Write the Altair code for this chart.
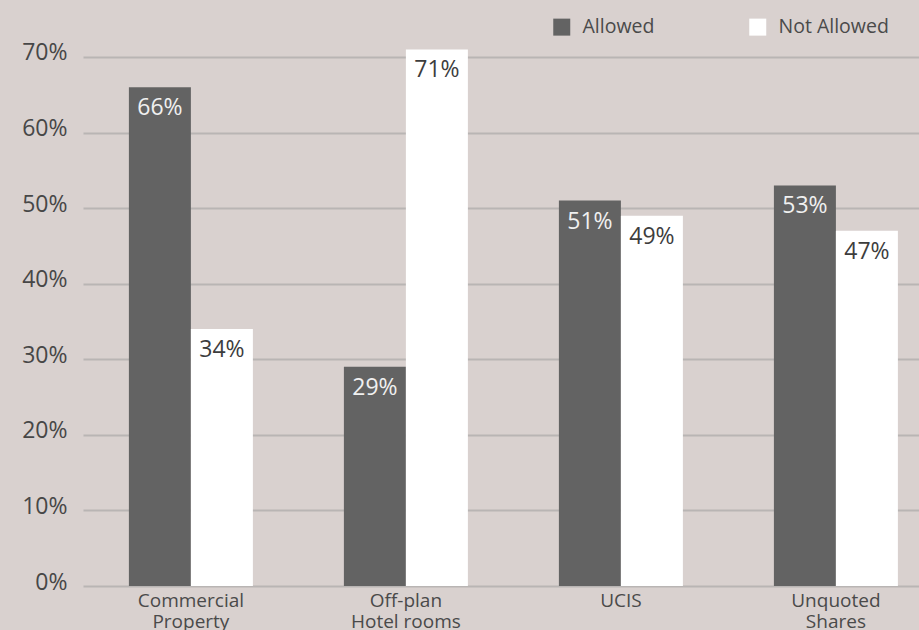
import json
import altair as alt
import pandas as pd

categories = ["Commercial Property", "Off-plan Hotel rooms", "UCIS", "Unquoted Shares"]
category_lines = [["Commercial", "Property"], ["Off-plan", "Hotel rooms"], ["UCIS"], ["Unquoted", "Shares"]]
series = ["Allowed", "Not Allowed"]
allowed = [66, 29, 51, 53]
not_allowed = [34, 71, 49, 47]
y_ticks = [0, 10, 20, 30, 40, 50, 60, 70]
series_colors = ["#636363", "#ffffff"]

rows = []
for c, a, n in zip(categories, allowed, not_allowed):
    rows.append({"category": c, "series": series[0], "value": a, "label": f"{a}%"})
    rows.append({"category": c, "series": series[1], "value": n, "label": f"{n}%"})
df = pd.DataFrame(rows)

label_expr = "datum.value"
for c, lines in reversed(list(zip(categories, category_lines))):
    label_expr = f"datum.value == '{c}' ? {json.dumps(lines)} : ({label_expr})"

FONT = "Open Sans"

x = alt.X(
    "category:N",
    sort=categories,
    scale=alt.Scale(paddingInner=0.4233, paddingOuter=0.1558, align=0.685),
    axis=alt.Axis(
        title=None, labelAngle=0, labelExpr=label_expr, labelFontSize=19,
        labelColor="#4a4a4a", labelPadding=5, labelLineHeight=21,
        ticks=False, domain=False, grid=False, labelFont=FONT,
    ),
)
xo = alt.XOffset("series:N", sort=series, scale=alt.Scale(paddingInner=0, paddingOuter=0))
y = alt.Y(
    "value:Q",
    scale=alt.Scale(domain=[0, 77.54], nice=False, zero=True),
    axis=alt.Axis(
        values=y_ticks, labelExpr="datum.value + '%'", title=None, domain=False,
        ticks=False, grid=True, gridColor="#b9b5b4", gridWidth=2,
        labelPadding=16, labelFontSize=23, labelColor="#474747", labelFont=FONT,
        labelBaseline="middle", labelOffset=-4,
    ),
)

bars = alt.Chart(df).mark_bar().encode(
    x=x,
    xOffset=xo,
    y=y,
    color=alt.Color(
        "series:N",
        scale=alt.Scale(domain=series, range=series_colors),
        legend=alt.Legend(
            title=None, orient="none", legendX=469, legendY=17, direction="horizontal",
            symbolType="square", symbolSize=289, symbolStrokeWidth=0, symbolOpacity=1,
            labelFontSize=19.5, labelColor="#4a4a4a", labelFont=FONT,
            columnPadding=93, labelOffset=11, padding=0,
        ),
    ),
)

texts = alt.Chart(df).mark_text(baseline="top", dy=10, fontSize=23, font=FONT).encode(
    x=x,
    xOffset=xo,
    y=y,
    text="label:N",
    color=alt.condition(alt.datum.series == "Allowed", alt.value("#f0f0f0"), alt.value("#3d3d3d")),
)

chart = (
    alt.layer(bars, texts)
    .properties(
        width=836,
        height=586,
        background="#d9d1cf",
        autosize=alt.AutoSizeParams(type="none"),
        padding={"left": 83, "top": 0, "right": 0, "bottom": 44},
    )
    .configure(font=FONT)
    .configure_view(stroke=None, strokeWidth=0)
)

chart.save("out.html", embed_options={"renderer": "svg", "actions": False})
